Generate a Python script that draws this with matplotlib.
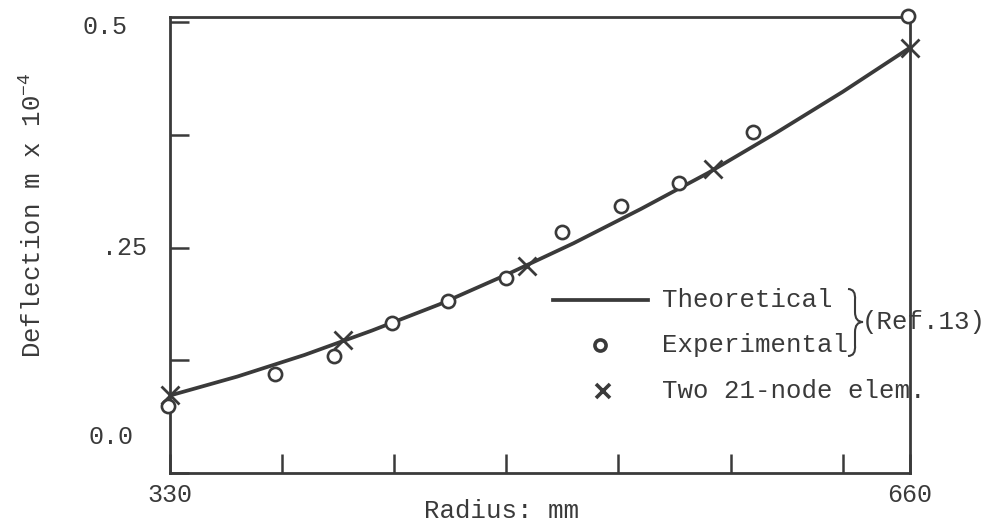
import matplotlib
matplotlib.use("Agg")
import matplotlib.pyplot as plt
from matplotlib.path import Path
from matplotlib.patches import PathPatch
from matplotlib.lines import Line2D
import matplotlib.transforms as mtransforms

plt.rcParams['font.family'] = ['Liberation Mono', 'DejaVu Sans Mono']
plt.rcParams['mathtext.fontset'] = 'custom'
plt.rcParams['mathtext.rm'] = 'Liberation Mono'
plt.rcParams['mathtext.it'] = 'Liberation Mono'

INK = '#3a3a3a'
W, H = 998, 526

# theoretical curve (Ref.13)
theory_r = [330, 360, 390, 420, 450, 480, 510, 540, 570, 600, 630, 660]
theory_d = [0.086, 0.107, 0.131, 0.158, 0.187, 0.220, 0.255, 0.293, 0.333, 0.377, 0.423, 0.472]

# experimental points (Ref.13)
exp_r = [329, 377, 403, 429, 454, 480, 505, 531, 557, 590, 659]
exp_d = [0.074, 0.110, 0.130, 0.166, 0.191, 0.216, 0.267, 0.296, 0.322, 0.378, 0.507]

# two 21-node elements
fe_r = [330, 407, 489, 572, 660]
fe_d = [0.086, 0.148, 0.230, 0.337, 0.472]

x_ticks = [330, 380, 430, 480, 530, 580, 630, 660]
x_labels = ['330', '', '', '', '', '', '', '660']
y_ticks = [0.0, 0.125, 0.25, 0.375, 0.5]
y_label_vals = [0.0, 0.25, 0.5]
y_label_txt = ['0.0', '.25', '0.5']


def fig_xy(x, y):
    # pixel position (top-left origin) -> figure fraction
    return x / W, 1 - y / H


fig = plt.figure(figsize=(W / 100, H / 100), dpi=100)
ax = fig.add_axes([170 / W, 53 / H, 740 / W, 456 / H])

ax.plot(theory_r, theory_d, color=INK, lw=2.7, zorder=3)
ax.plot(exp_r, exp_d, ls='none', marker='o', ms=9.5, mew=1.9,
        mfc='white', mec=INK, zorder=5, clip_on=False)
ax.plot(fe_r, fe_d, ls='none', marker='x', ms=13, mew=2.0,
        color=INK, zorder=6, clip_on=False)

ax.set_xlim(330, 660)
ax.set_ylim(0, 0.506)
ax.set_xticks(x_ticks)
ax.set_xticklabels(x_labels)
ax.set_yticks(y_ticks)
ax.set_yticklabels([])
ax.tick_params(direction='in', length=14, width=1.8, color=INK,
               labelsize=18, labelcolor=INK)
ax.tick_params(axis='x', pad=7)
for s in ax.spines.values():
    s.set_linewidth(2.0)
    s.set_color(INK)

# hand-lettered y tick labels
ytrans = mtransforms.blended_transform_factory(fig.transFigure, ax.transData)
y_offsets = [0.04, 0.0, -0.005]
y_right = [133, 147, 128]
for v, t, off, xr in zip(y_label_vals, y_label_txt, y_offsets, y_right):
    ax.text(xr / W, v + off, t, transform=ytrans, ha='right', va='center',
            fontsize=18, color=INK)

fig.text(*fig_xy(33, 215), 'Deflection m x 10$^{-4}$', rotation=90,
         ha='center', va='center', fontsize=18.5, color=INK)
fig.text(*fig_xy(501, 511), 'Radius: mm', ha='center', va='center',
         fontsize=18.5, color=INK)

# legend drawn by hand
rows = [300, 345, 391]
fig.add_artist(Line2D([553 / W, 648 / W], [1 - rows[0] / H] * 2,
                      color=INK, lw=2.7, transform=fig.transFigure))
fig.add_artist(Line2D([600 / W], [1 - rows[1] / H], ls='none', marker='o',
                      ms=8, mew=2.6, mfc='white', mec=INK,
                      transform=fig.transFigure))
fig.add_artist(Line2D([603 / W], [1 - rows[2] / H], ls='none', marker='x',
                      ms=10, mew=2.6, color=INK, transform=fig.transFigure))
for y, t in zip(rows, ['Theoretical', 'Experimental', 'Two 21-node elem.']):
    fig.text(*fig_xy(662, y), t, ha='left', va='center', fontsize=18.5,
             color=INK, zorder=10)

# brace grouping the first two entries
pts = [(848, 289), (856, 289), (855, 300), (855, 312), (855, 322), (863, 322),
       (855, 322), (855, 332), (855, 345), (856, 356), (848, 356)]
codes = [Path.MOVETO, Path.CURVE3, Path.CURVE3, Path.LINETO, Path.CURVE3,
         Path.CURVE3, Path.CURVE3, Path.CURVE3, Path.LINETO, Path.CURVE3,
         Path.CURVE3]
brace = Path([fig_xy(x, y) for x, y in pts], codes)
fig.add_artist(PathPatch(brace, fill=False, ec=INK, lw=1.5,
                         transform=fig.transFigure))
fig.text(*fig_xy(862, 322), '(Ref.13)', ha='left', va='center',
         fontsize=18.5, color=INK, zorder=10)

fig.savefig('out.png', dpi=100)
